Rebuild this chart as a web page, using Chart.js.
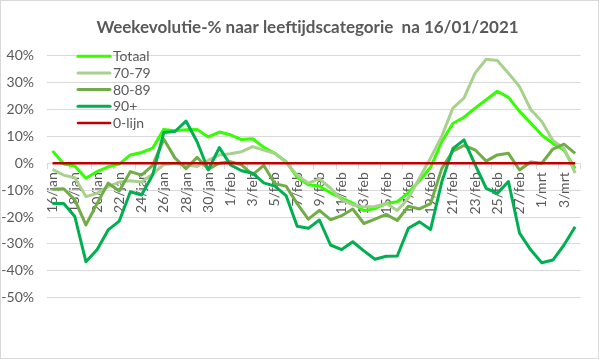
<!DOCTYPE html>
<html>
<head>
<meta charset="utf-8">
<script src="https://cdn.jsdelivr.net/npm/chart.js@4.4.1/dist/chart.umd.min.js"></script>
<style>
  html, body { margin: 0; padding: 0; background: #ffffff; }
  #wrap { width: 599px; height: 359px; box-sizing: border-box; border: 1px solid #d9d9d9; background: #ffffff; }
  canvas { display: block; }
</style>
</head>
<body>
<div id="wrap"><canvas id="c" width="597" height="357"></canvas></div>
<script>
// ---- data ----
const chartTitle = 'Weekevolutie-% naar leeftijdscategorie  na 16/01/2021';

const dates = [
  '16/jan','17/jan','18/jan','19/jan','20/jan','21/jan','22/jan','23/jan','24/jan','25/jan',
  '26/jan','27/jan','28/jan','29/jan','30/jan','31/jan',
  '1/feb','2/feb','3/feb','4/feb','5/feb','6/feb','7/feb','8/feb','9/feb','10/feb',
  '11/feb','12/feb','13/feb','14/feb','15/feb','16/feb','17/feb','18/feb','19/feb','20/feb',
  '21/feb','22/feb','23/feb','24/feb','25/feb','26/feb','27/feb','28/feb',
  '1/mrt','2/mrt','3/mrt','4/mrt'
];

const totaal = [
  4.6, -0.3, -1.0, -5.6, -3.1, -1.3, -0.3, 3.1, 4.0, 5.6,
  12.6, 12.1, 12.5, 12.6, 9.8, 11.6,
  10.6, 8.8, 9.1, 5.9, 3.7, 0.6, -5.2, -8.0, -8.5, -11.0,
  -13.0, -14.8, -17.7, -16.8, -15.0, -14.3, -11.0, -6.5, -1.5, 8.0,
  14.8, 17.1, 20.5, 23.6, 26.8, 24.5, 19.3, 15.0,
  10.5, 7.4, 4.9, -2.0
];

const age7079 = [
  -2.3, -4.4, -5.4, -12.4, -11.2, -8.7, -7.0, -6.5, -7.0, -4.0,
  -0.5, 0.0, -0.6, -1.2, 1.1, 3.1,
  3.5, 4.3, 6.2, 4.9, 3.7, 0.3, -4.4, -7.4, -5.8, -9.3,
  -13.6, -15.5, -16.3, -16.1, -14.9, -17.6, -13.0, -5.5, 2.0, 10.0,
  20.5, 24.2, 33.5, 38.7, 38.2, 33.5, 28.5, 20.0,
  15.5, 8.5, 5.5, -3.7
];

const age8089 = [
  -9.7, -9.5, -13.6, -22.9, -15.0, -7.4, -10.3, -3.1, -4.4, -0.8,
  9.0, 2.0, -2.0, 2.2, -2.2, 0.0,
  0.6, -0.6, -4.2, -0.8, -7.6, -8.5, -15.0, -20.8, -17.5, -21.0,
  -19.5, -17.0, -22.4, -20.8, -19.0, -21.3, -16.0, -17.0, -15.0, -2.0,
  4.5, 6.6, 5.0, 0.8, 3.1, 3.7, -2.5, 0.5,
  0.0, 5.3, 7.1, 3.7
];

const age90plus = [
  -15.0, -15.0, -19.8, -36.6, -32.2, -24.8, -21.5, -10.6, -11.8, -4.4,
  11.4, 11.8, 15.7, 8.0, -2.5, 5.8,
  -0.6, -2.8, -3.7, -7.3, -8.5, -12.0, -23.4, -24.2, -21.1, -30.4,
  -32.1, -29.2, -32.6, -35.7, -34.6, -34.5, -24.2, -21.8, -24.6, -7.0,
  5.4, 8.7, -0.5, -9.3, -11.2, -6.8, -26.0, -32.2,
  -37.0, -36.0, -30.4, -23.6
];

const zeroLine = dates.map(() => 0);

const seriesNames = ['Totaal', '70-79', '80-89', '90+', '0-lijn'];
const yTicks = { min: -50, max: 40, step: 10 };

// ---- styling ----
const TEXT = '#595959';
const GRID = '#d9d9d9';
const FONT = 'Lato';

const titlePlugin = {
  id: 'customTitle',
  afterDraw(chart) {
    const ctx = chart.ctx;
    ctx.save();
    ctx.font = 'bold 17px ' + FONT;
    ctx.fillStyle = TEXT;
    ctx.textAlign = 'center';
    ctx.textBaseline = 'middle';
    ctx.fillText(chartTitle, 306.5, 27);
    ctx.restore();
  }
};

const legendPlugin = {
  id: 'insideLegend',
  afterDraw(chart) {
    const ctx = chart.ctx;
    const a = chart.chartArea;
    ctx.save();
    ctx.font = '14px ' + FONT;
    ctx.textBaseline = 'middle';
    ctx.textAlign = 'left';
    chart.data.datasets.forEach((ds, i) => {
      const y = a.top + 0.5 + i * 16.7;
      ctx.strokeStyle = ds.borderColor;
      ctx.lineWidth = ds.borderWidth;
      ctx.lineCap = 'round';
      ctx.beginPath();
      ctx.moveTo(a.left + 31, y);
      ctx.lineTo(a.left + 63, y);
      ctx.stroke();
      ctx.fillStyle = TEXT;
      ctx.fillText(ds.label, a.left + 66, y + 0.5);
    });
    ctx.restore();
  }
};

const colors = ['#33ff00', '#a9d18e', '#70ad47', '#00b050', '#c00000'];
const values = [totaal, age7079, age8089, age90plus, zeroLine];

const datasets = seriesNames.map((name, i) => ({
  label: name,
  data: values[i],
  borderColor: colors[i],
  backgroundColor: colors[i],
  borderWidth: i === 4 ? 2.5 : 3,
  pointRadius: 0,
  fill: false,
  tension: 0,
  order: 4 - i
}));

new Chart(document.getElementById('c'), {
  type: 'line',
  data: { labels: dates, datasets },
  options: {
    responsive: false,
    animation: false,
    events: [],
    layout: { padding: { top: 54.7, right: 17.3, bottom: 60.3, left: 0 } },
    plugins: { legend: { display: false }, title: { display: false }, tooltip: { enabled: false } },
    elements: { line: { borderJoinStyle: 'round', borderCapStyle: 'butt' } },
    scales: {
      x: {
        type: 'category',
        position: { y: 0 },
        offset: true,
        grid: {
          offset: true,
          drawOnChartArea: false,
          drawTicks: true,
          tickLength: 5,
          color: (c) => (c.index === undefined || c.index % 2 === 0) ? GRID : 'rgba(0,0,0,0)'
        },
        border: { display: true, color: GRID },
        ticks: {
          autoSkip: false,
          maxRotation: 90,
          minRotation: 90,
          padding: 4,
          color: TEXT,
          font: { family: FONT, size: 14 },
          callback: (v, i) => (i % 2 === 0 ? dates[i] : '')
        }
      },
      y: {
        min: yTicks.min,
        max: yTicks.max,
        ticks: {
          stepSize: yTicks.step,
          padding: 13,
          color: TEXT,
          font: { family: FONT, size: 14 },
          callback: (v) => v + '%'
        },
        grid: { color: GRID, drawTicks: false },
        border: { display: false },
        afterFit(s) { s.width = 46; }
      }
    }
  },
  plugins: [titlePlugin, legendPlugin]
});
</script>
</body>
</html>
